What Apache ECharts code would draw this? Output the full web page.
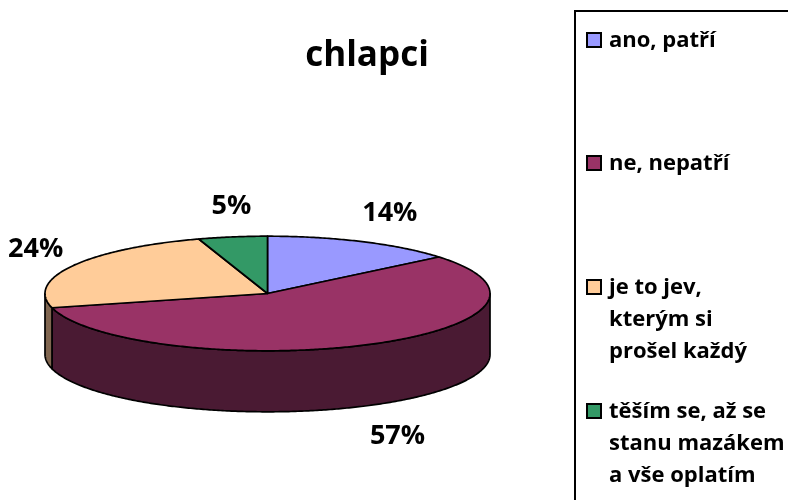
<!DOCTYPE html>
<html><head><meta charset="utf-8">
<script src="https://cdn.jsdelivr.net/npm/echarts@6/dist/echarts.min.js"></script>
<style>html,body{margin:0;padding:0;background:#fff}#c{width:788px;height:500px}</style>
</head><body><div id="c"></div>
<script>
const chartTitle = 'chlapci';
const categories = ['ano, patří', 'ne, nepatří', 'je to jev,\nkterým si\nprošel každý', 'těším se, až se\nstanu mazákem\na vše oplatím'];
const values = [14, 57, 24, 5];
const colors = ['#9999FF', '#993366', '#FFCC99', '#339966'];
const sideColors = ['#4D4D80', '#4A1A33', '#806650', '#1A4D33'];

const CX = 267.5, CY = 293.5, RX = 222.5, RY = 57.3, DEPTH = 61;
const LRX = 272, LRY = 86;
const FONT = '"Open Sans", "Noto Sans", sans-serif';
const total = values.reduce((a, b) => a + b, 0);

function pt(a, dy) { return [CX + RX * Math.sin(a), CY - RY * Math.cos(a) + (dy || 0)]; }

function renderItem(params, api) {
  const i = params.dataIndex;
  let start = 0;
  for (let k = 0; k < i; k++) start += values[k];
  const v = api.value(0);
  const a1 = start / total * 2 * Math.PI, a2 = (start + v) / total * 2 * Math.PI;
  const children = [];
  const w1 = Math.max(a1, Math.PI / 2), w2 = Math.min(a2, 3 * Math.PI / 2);
  if (w2 > w1) {
    const pts = [];
    const n = Math.max(2, Math.ceil((w2 - w1) / 0.01));
    for (let k = 0; k <= n; k++) pts.push(pt(w1 + (w2 - w1) * k / n));
    for (let k = n; k >= 0; k--) pts.push(pt(w1 + (w2 - w1) * k / n, DEPTH));
    children.push({ type: 'polygon', shape: { points: pts }, style: { fill: sideColors[i], stroke: '#000', lineWidth: 1.7, lineJoin: 'round' } });
  }
  const tp = [[CX, CY]];
  const n2 = Math.max(2, Math.ceil((a2 - a1) / 0.01));
  for (let k = 0; k <= n2; k++) tp.push(pt(a1 + (a2 - a1) * k / n2));
  children.push({ type: 'polygon', shape: { points: tp }, style: { fill: colors[i], stroke: '#000', lineWidth: 1.7, lineJoin: 'round' } });
  const mid = (a1 + a2) / 2;
  const lx = CX + 6.5 + LRX * Math.sin(mid);
  let ly = CY - 2.5 - LRY * Math.cos(mid);
  if (Math.cos(mid) < 0) ly += 69;
  children.push({ type: 'text', z2: 10, style: { text: Math.round(v / total * 100) + '%', x: lx, y: ly, align: 'center', verticalAlign: 'middle', fontSize: 27, fontWeight: 'bold', fontFamily: FONT, fill: '#000' } });
  return { type: 'group', children };
}

const legendY = [40, 163, 287, 411];
const legendGraphics = [
  { type: 'rect', shape: { x: 575, y: 11, width: 300, height: 600 }, style: { fill: 'none', stroke: '#000', lineWidth: 2 } },
  { type: 'text', style: { text: chartTitle, x: 367, y: 56, align: 'center', verticalAlign: 'middle', fontSize: 35, fontWeight: 'bold', fontFamily: FONT, fill: '#000' } }
];
categories.forEach((c, i) => {
  legendGraphics.push({ type: 'rect', shape: { x: 587, y: legendY[i] - 7, width: 14, height: 14 }, style: { fill: colors[i], stroke: '#000', lineWidth: 2 } });
  legendGraphics.push({ type: 'text', style: { text: c, x: 609, y: legendY[i] - 16 + 1, align: 'left', verticalAlign: 'top', lineHeight: 32, fontSize: 22, fontWeight: 'bold', fontFamily: FONT, fill: '#000' } });
});

const chart = echarts.init(document.getElementById('c'), null, { renderer: 'canvas' });
chart.setOption({
  animation: false,
  backgroundColor: '#fff',
  graphic: legendGraphics,
  series: [{
    type: 'custom',
    coordinateSystem: 'none',
    renderItem: renderItem,
    data: values.map((v, i) => ({ name: categories[i], value: v }))
  }]
});
</script></body></html>
